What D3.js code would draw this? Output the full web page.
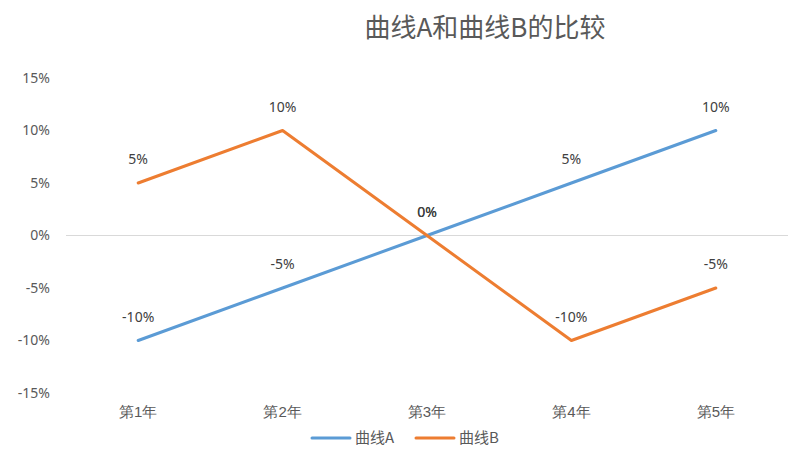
<!DOCTYPE html>
<html>
<head>
<meta charset="utf-8">
<script src="https://cdn.jsdelivr.net/npm/d3@7"></script>
<style>
  body { margin: 0; background: #fff; }
  svg { font-family: "Noto Sans CJK SC", "Noto Sans", sans-serif; }
</style>
</head>
<body>
<div id="chart"></div>
<script>
// Chart data
var categories = ["第1年", "第2年", "第3年", "第4年", "第5年"];
var seriesNames = ["曲线A", "曲线B"];
var curveA = [-0.10, -0.05, 0.00, 0.05, 0.10];
var curveB = [0.05, 0.10, 0.00, -0.10, -0.05];
var yTicks = [-0.15, -0.10, -0.05, 0, 0.05, 0.10, 0.15];
var colors = ["#5b9bd5", "#ed7d31"];

var W = 798, H = 460;
var margin = {top: 78, right: 10, bottom: 67, left: 66},
    width = 788 - margin.left,
    height = 393 - margin.top;

var svg = d3.select("#chart").append("svg")
    .attr("width", W)
    .attr("height", H);

var g = svg.append("g")
    .attr("transform", "translate(" + margin.left + "," + margin.top + ")");

var xScale = d3.scaleBand().domain(categories).range([0, width]);
var xMid = function (d, i) { return xScale(categories[i]) + xScale.bandwidth() / 2; };
var yScale = d3.scaleLinear().domain([-0.15, 0.15]).range([height, 0]);
// plain hyphen for negatives, like the original
var pct = function (d) { return d3.format(".0%")(d).replace("\u2212", "-"); };

// Title
svg.append("text")
  .attr("x", 485)
  .attr("y", 37)
  .attr("text-anchor", "middle")
  .attr("fill", "#595959")
  .style("font-size", "26px")
  .text("曲线A和曲线B的比较");

// zero line
g.append("line")
  .attr("x1", 0).attr("x2", width)
  .attr("y1", yScale(0)).attr("y2", yScale(0))
  .attr("stroke", "#d9d9d9").attr("stroke-width", 1);

// y axis labels
var yAxis = d3.axisLeft(yScale).tickValues(yTicks).tickFormat(pct).tickSize(0).tickPadding(16);
var ya = g.append("g").call(yAxis);
ya.select(".domain").remove();
ya.selectAll("text").attr("fill", "#595959").style("font-size", "14px")
  .style("font-family", "'Noto Sans', 'Noto Sans CJK SC', sans-serif");

// x axis labels
var xAxis = d3.axisBottom(xScale).tickSize(0).tickPadding(13);
var xa = g.append("g").attr("transform", "translate(0," + height + ")").call(xAxis);
xa.select(".domain").remove();
xa.selectAll("text").attr("fill", "#595959").style("font-size", "15px");

// lines
var line = d3.line()
  .x(function (d, i) { return xMid(d, i); })
  .y(function (d) { return yScale(d); });

[curveA, curveB].forEach(function (data, k) {
  g.append("path")
    .datum(data)
    .attr("fill", "none")
    .attr("stroke", colors[k])
    .attr("stroke-width", 3)
    .attr("stroke-linecap", "round")
    .attr("stroke-linejoin", "round")
    .attr("d", line);
});

// data labels
[curveA, curveB].forEach(function (data) {
  g.selectAll(null)
    .data(data)
    .enter().append("text")
    .attr("x", function (d, i) { return xMid(d, i); })
    .attr("y", function (d) { return yScale(d) - 19; })
    .attr("text-anchor", "middle")
    .attr("fill", "#404040")
    .style("font-size", "14px")
    .style("font-family", "'Noto Sans', 'Noto Sans CJK SC', sans-serif")
    .text(function (d) { return pct(d); });
});

// legend
var legend = svg.append("g").attr("transform", "translate(312,438)");
seriesNames.forEach(function (name, k) {
  var lg = legend.append("g").attr("transform", "translate(" + (k * 104) + ",0)");
  lg.append("line")
    .attr("x1", 0).attr("x2", 38)
    .attr("stroke", colors[k])
    .attr("stroke-width", 3)
    .attr("stroke-linecap", "round");
  lg.append("text")
    .attr("x", 43)
    .attr("y", 5)
    .attr("fill", "#595959")
    .style("font-size", "15px")
    .text(name);
});
</script>
</body>
</html>
